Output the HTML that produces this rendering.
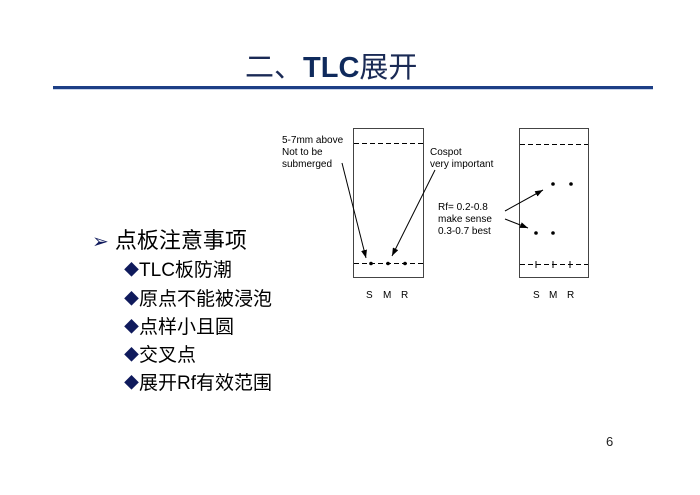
<!DOCTYPE html>
<html><head><meta charset="utf-8"><style>
body{margin:0;background:#fff;}
svg{display:block;}
</style></head><body>
<svg width="700" height="495" viewBox="0 0 700 495" xmlns="http://www.w3.org/2000/svg">
<defs>
<marker id="ah" markerWidth="8" markerHeight="6" refX="8" refY="3" orient="auto" markerUnits="userSpaceOnUse">
<path d="M0,0 L8,3 L0,6 z" fill="#000"/></marker>
</defs>
<rect width="700" height="495" fill="#fff"/>
<text x="245" y="77" font-family="Liberation Sans, Noto Sans CJK SC, sans-serif" font-size="29" fill="#1a2a55">二、<tspan font-weight="bold" fill="#0f2a5c">TLC</tspan>展开</text>
<rect x="53" y="86" width="600" height="3" fill="#1d3f86"/>
<line x1="53" y1="89.5" x2="653" y2="89.5" stroke="#c8d4ea" stroke-width="1"/>

<g font-family="Liberation Sans, Noto Sans CJK SC, sans-serif" fill="#000">
<text x="92" y="248" font-size="22"><tspan fill="#0f1a5c" font-size="20">➢</tspan> 点板注意事项</text>
<g font-size="19">
<text x="124" y="276"><tspan fill="#0f1a5c" font-size="15" dy="-1">◆</tspan><tspan dy="1">TLC板防潮</tspan></text>
<text x="124" y="305"><tspan fill="#0f1a5c" font-size="15" dy="-1">◆</tspan><tspan dy="1">原点不能被浸泡</tspan></text>
<text x="124" y="333"><tspan fill="#0f1a5c" font-size="15" dy="-1">◆</tspan><tspan dy="1">点样小且圆</tspan></text>
<text x="124" y="361"><tspan fill="#0f1a5c" font-size="15" dy="-1">◆</tspan><tspan dy="1">交叉点</tspan></text>
<text x="124" y="389"><tspan fill="#0f1a5c" font-size="15" dy="-1">◆</tspan><tspan dy="1">展开Rf有效范围</tspan></text>
</g>
<text x="606" y="446" font-size="13" fill="#222">6</text>
</g>

<g stroke="#444" fill="none" stroke-width="1">
<rect x="353.5" y="128.5" width="70" height="149"/>
<rect x="519.5" y="128.5" width="69" height="149"/>
</g>
<g stroke="#000" stroke-width="1" stroke-dasharray="5,3">
<line x1="354" y1="143.5" x2="423" y2="143.5"/>
<line x1="354" y1="263.5" x2="423" y2="263.5"/>
<line x1="520" y1="144.5" x2="588" y2="144.5"/>
<line x1="520" y1="264.5" x2="588" y2="264.5"/>
</g>
<g fill="#000">
<circle cx="371" cy="263.5" r="1.8"/><circle cx="388" cy="263.5" r="1.8"/><circle cx="405" cy="263.5" r="1.8"/>
<circle cx="553" cy="184" r="1.8"/><circle cx="571" cy="184" r="1.8"/>
<circle cx="536" cy="233" r="1.8"/><circle cx="553" cy="233" r="1.8"/>
</g>
<g stroke="#000" stroke-width="1">
<line x1="536" y1="261" x2="536" y2="268"/><line x1="553" y1="261" x2="553" y2="268"/><line x1="570" y1="261" x2="570" y2="268"/>
<line x1="342" y1="163" x2="366" y2="258" marker-end="url(#ah)"/>
<line x1="435" y1="170" x2="392" y2="256" marker-end="url(#ah)"/>
<line x1="505" y1="211" x2="543" y2="190" marker-end="url(#ah)"/>
<line x1="505" y1="219" x2="528" y2="228" marker-end="url(#ah)"/>
</g>
<g font-family="Liberation Sans, sans-serif" font-size="10" fill="#000">
<text x="282" y="143">5-7mm above</text>
<text x="282" y="155">Not to be</text>
<text x="282" y="167">submerged</text>
<text x="430" y="155">Cospot</text>
<text x="430" y="167">very important</text>
<text x="438" y="210">Rf= 0.2-0.8</text>
<text x="438" y="222">make sense</text>
<text x="438" y="234">0.3-0.7 best</text>
<text x="366" y="298">S</text><text x="383" y="298">M</text><text x="401" y="298">R</text>
<text x="533" y="298">S</text><text x="549" y="298">M</text><text x="567" y="298">R</text>
</g>
</svg>
</body></html>
